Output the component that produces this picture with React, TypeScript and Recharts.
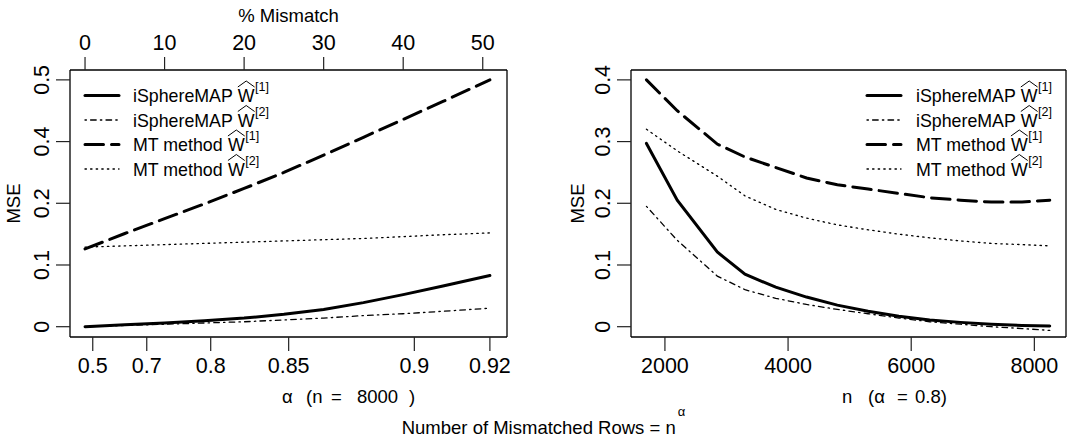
import React from "react";
import { LineChart, Line, XAxis, YAxis } from "recharts";

const FONT = '"Liberation Sans", Arial, Helvetica, sans-serif';

// ---- left panel: x is % mismatch (n = 8000) ----
const mismatchPct = [0, 5, 10, 15, 20, 25, 30, 35, 40, 45, 50.9];
const leftISphere1 = [0.0, 0.003, 0.006, 0.0095, 0.014, 0.02, 0.028, 0.039, 0.052, 0.066, 0.083];
const leftISphere2 = [0.0, 0.002, 0.004, 0.006, 0.008, 0.011, 0.014, 0.018, 0.021, 0.025, 0.03];
const leftMT1 = [0.126, 0.151, 0.175, 0.199, 0.248, 0.3, 0.356, 0.407, 0.436, 0.465, 0.5];
const leftMT2 = [0.129, 0.131, 0.133, 0.135, 0.137, 0.139, 0.141, 0.143, 0.146, 0.149, 0.152];

const pctTicks = [0, 10, 20, 30, 40, 50];
const alphaTickPos = [0.97, 7.76, 15.8, 25.6, 41.4, 50.9];
const alphaTickLabels = ["0.5", "0.7", "0.8", "0.85", "0.9", "0.92"];
// left MSE axis: labels sit on evenly spaced ticks
const leftMseLabels = [0, 0.1, 0.2, 0.4, 0.5];
const tickSteps = [0, 0.1, 0.2, 0.3, 0.4];

// ---- right panel: x is n (alpha = 0.8) ----
const nValues = [1700, 2200, 2850, 3300, 3800, 4300, 4800, 5300, 5800, 6300, 6800, 7300, 7800, 8250];
const rightISphere1 = [0.297, 0.205, 0.121, 0.085, 0.064, 0.048, 0.035, 0.025, 0.017, 0.011, 0.007, 0.004, 0.002, 0.001];
const rightISphere2 = [0.195, 0.14, 0.082, 0.06, 0.046, 0.036, 0.028, 0.021, 0.014, 0.008, 0.004, 0.0, -0.003, -0.006];
const rightMT1 = [0.4, 0.35, 0.296, 0.275, 0.258, 0.241, 0.23, 0.223, 0.216, 0.209, 0.205, 0.202, 0.202, 0.205];
const rightMT2 = [0.32, 0.285, 0.244, 0.212, 0.19, 0.176, 0.165, 0.157, 0.15, 0.144, 0.139, 0.135, 0.133, 0.131];

const nTicks = [2000, 4000, 6000, 8000];
const rightMseTicks = [0, 0.1, 0.2, 0.3, 0.4];

const SERIES = [
  { key: "s1", name: "iSphereMAP", sup: "[1]", width: 3, dash: undefined as string | undefined },
  { key: "s2", name: "iSphereMAP", sup: "[2]", width: 1.3, dash: "1.4 4.2 5.6 4.2" },
  { key: "m1", name: "MT method", sup: "[1]", width: 3, dash: "18.5 8" },
  { key: "m2", name: "MT method", sup: "[2]", width: 1.3, dash: "1.4 4.2" },
];

const Y_DOMAIN = [-0.0167, 0.416];
const AXIS = { stroke: "#000", strokeWidth: 1.3 };
const TICK = { stroke: "#222", strokeWidth: 1.2 };
const TICK_FS = 21.5;

function toLeftAxis(v: number) {
  for (let i = 1; i < leftMseLabels.length; i++) {
    if (v <= leftMseLabels[i] || i === leftMseLabels.length - 1) {
      const a = leftMseLabels[i - 1];
      const b = leftMseLabels[i];
      return tickSteps[i - 1] + ((v - a) / (b - a)) * (tickSteps[i] - tickSteps[i - 1]);
    }
  }
  return v;
}

const bottomTick = (ticks: number[], labels?: string[]) => (p: any) => {
  const i = ticks.indexOf(p.payload.value);
  return (
    <text x={p.x} y={p.y} dy={15.3} textAnchor="middle" fontSize={TICK_FS} fontFamily={FONT} fill="#000">
      {labels ? labels[i] : String(p.payload.value)}
    </text>
  );
};

const topTick = (p: any) => (
  <text x={p.x} y={p.y} textAnchor="middle" fontSize={TICK_FS} fontFamily={FONT} fill="#000">
    {String(p.payload.value)}
  </text>
);

const yTick = (ticks: number[], labels: number[]) => (p: any) => {
  const i = ticks.indexOf(p.payload.value);
  return (
    <text
      x={p.x}
      y={p.y}
      transform={`rotate(-90 ${p.x} ${p.y})`}
      textAnchor="middle"
      fontSize={TICK_FS}
      fontFamily={FONT}
      fill="#000"
    >
      {String(labels[i])}
    </text>
  );
};

function seriesLines() {
  return SERIES.map((s) => (
    <Line
      key={s.key}
      xAxisId="bottom"
      yAxisId="l"
      dataKey={s.key}
      type="linear"
      stroke="#000"
      strokeWidth={s.width}
      strokeDasharray={s.dash}
      strokeLinecap="round"
      dot={false}
      activeDot={false}
      isAnimationActive={false}
    />
  ));
}

// axes get a 1px band (a 0 size axis is not drawn), margins are 1px smaller to keep the box
function LeftPanel() {
  const data = mismatchPct.map((p, i) => ({
    pct: p,
    s1: toLeftAxis(leftISphere1[i]),
    s2: toLeftAxis(leftISphere2[i]),
    m1: toLeftAxis(leftMT1[i]),
    m2: toLeftAxis(leftMT2[i]),
  }));
  const xDomain = [-1.89, 53.05];
  return (
    <LineChart width={545} height={443} data={data} margin={{ top: 69, right: 37, bottom: 105, left: 69 }}>
      <XAxis
        xAxisId="bottom"
        dataKey="pct"
        type="number"
        domain={xDomain}
        allowDataOverflow
        ticks={alphaTickPos}
        interval={0}
        height={1}
        tickSize={14}
        tickMargin={7}
        axisLine={AXIS}
        tickLine={TICK}
        tick={bottomTick(alphaTickPos, alphaTickLabels)}
      />
      <XAxis
        xAxisId="top"
        orientation="top"
        dataKey="pct"
        type="number"
        domain={xDomain}
        allowDataOverflow
        ticks={pctTicks}
        interval={0}
        height={1}
        tickSize={13}
        tickMargin={7}
        axisLine={AXIS}
        tickLine={TICK}
        tick={topTick}
      />
      <YAxis
        yAxisId="l"
        type="number"
        domain={Y_DOMAIN}
        allowDataOverflow
        ticks={tickSteps}
        interval={0}
        width={1}
        tickSize={14}
        tickMargin={7}
        axisLine={AXIS}
        tickLine={TICK}
        tick={yTick(tickSteps, leftMseLabels)}
      />
      <YAxis yAxisId="r" orientation="right" type="number" domain={Y_DOMAIN} width={1} tick={false} tickLine={false} axisLine={AXIS} />
      {seriesLines()}
    </LineChart>
  );
}

function RightPanel() {
  const data = nValues.map((n, i) => ({
    n,
    s1: rightISphere1[i],
    s2: rightISphere2[i],
    m1: rightMT1[i],
    m2: rightMT2[i],
  }));
  const xDomain = [1449, 8514];
  return (
    <LineChart width={546} height={443} data={data} margin={{ top: 69, right: 24, bottom: 105, left: 85 }}>
      <XAxis
        xAxisId="bottom"
        dataKey="n"
        type="number"
        domain={xDomain}
        allowDataOverflow
        ticks={nTicks}
        interval={0}
        height={1}
        tickSize={14}
        tickMargin={7}
        axisLine={AXIS}
        tickLine={TICK}
        tick={bottomTick(nTicks)}
      />
      <XAxis
        xAxisId="top"
        orientation="top"
        dataKey="n"
        type="number"
        domain={xDomain}
        allowDataOverflow
        height={1}
        tick={false}
        tickLine={false}
        axisLine={AXIS}
      />
      <YAxis
        yAxisId="l"
        type="number"
        domain={Y_DOMAIN}
        allowDataOverflow
        ticks={rightMseTicks}
        interval={0}
        width={1}
        tickSize={14}
        tickMargin={7}
        axisLine={AXIS}
        tickLine={TICK}
        tick={yTick(rightMseTicks, rightMseTicks)}
      />
      <YAxis yAxisId="r" orientation="right" type="number" domain={Y_DOMAIN} width={1} tick={false} tickLine={false} axisLine={AXIS} />
      {seriesLines()}
    </LineChart>
  );
}

let ctx: CanvasRenderingContext2D | null = null;
function textWidth(t: string, size: number) {
  if (!ctx) ctx = document.createElement("canvas").getContext("2d");
  if (!ctx) return t.length * size * 0.55;
  ctx.font = `${size}px "Liberation Sans", Arial, sans-serif`;
  return ctx.measureText(t).width;
}

const LEGEND_ROWS = [95.5, 120, 144.5, 169];
const LEG_FS = 17.8;

function LegendBlock({ sampleX, textX }: { sampleX: number; textX: number }) {
  return (
    <g>
      {SERIES.map((s, i) => {
        const y = LEGEND_ROWS[i];
        const base = y + 6.5;
        const wx = textX + textWidth(s.name, LEG_FS) + 5;
        const ww = textWidth("W", LEG_FS);
        return (
          <g key={s.key}>
            <line
              x1={sampleX}
              x2={sampleX + 34}
              y1={y}
              y2={y}
              stroke="#000"
              strokeWidth={s.width}
              strokeDasharray={s.dash}
              strokeLinecap="round"
            />
            <text x={textX} y={base} fontSize={LEG_FS} fontFamily={FONT} fill="#000">
              {s.name}
            </text>
            <text x={wx} y={base} fontSize={LEG_FS} fontFamily={FONT} fill="#000">
              W
            </text>
            <path
              d={`M${wx} ${base - 15} L${wx + ww / 2} ${base - 21} L${wx + ww} ${base - 15}`}
              fill="none"
              stroke="#000"
              strokeWidth={1}
            />
            <text x={wx + ww + 0.5} y={base - 11} fontSize={12.5} fontFamily={FONT} fill="#000">
              {s.sup}
            </text>
          </g>
        );
      })}
    </g>
  );
}

function Overlay() {
  const t = { fontFamily: FONT, fill: "#000" };
  const nEnd = 401.7 + textWidth("Number of Mismatched Rows = n", 18.5);
  return (
    <svg width={1091} height={443} style={{ position: "absolute", left: 0, top: 0, pointerEvents: "none" }}>
      <text x={288.5} y={22} textAnchor="middle" fontSize={18.5} {...t}>
        % Mismatch
      </text>
      <text y={403} fontSize={18.5} {...t}>
        <tspan x={282}>α</tspan>
        <tspan x={306}>(n</tspan>
        <tspan x={331}>=</tspan>
        <tspan x={357}>8000</tspan>
        <tspan x={409}>)</tspan>
      </text>
      <text y={403} fontSize={18.5} {...t}>
        <tspan x={842}>n</tspan>
        <tspan x={868}>(α</tspan>
        <tspan x={897}>=</tspan>
        <tspan x={915}>0.8)</tspan>
      </text>
      <text x={401.7} y={434} fontSize={18.5} {...t}>
        Number of Mismatched Rows = n
      </text>
      <text x={nEnd + 2} y={416} fontSize={13} {...t}>
        α
      </text>
      <text x={20} y={203.5} transform="rotate(-90 20 203.5)" textAnchor="middle" fontSize={18.5} {...t}>
        MSE
      </text>
      <text x={584} y={203.5} transform="rotate(-90 584 203.5)" textAnchor="middle" fontSize={18.5} {...t}>
        MSE
      </text>
      <LegendBlock sampleX={85} textX={133} />
      <LegendBlock sampleX={867} textX={916} />
    </svg>
  );
}

export default function App() {
  return (
    <div style={{ position: "absolute", left: 0, top: 0, width: 1091, height: 443, background: "#fff" }}>
      <div style={{ position: "absolute", left: 0, top: 0 }}>
        <LeftPanel />
      </div>
      <div style={{ position: "absolute", left: 545, top: 0 }}>
        <RightPanel />
      </div>
      <Overlay />
    </div>
  );
}
